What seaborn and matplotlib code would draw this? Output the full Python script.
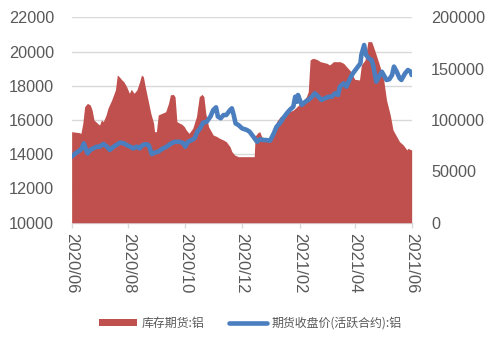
import matplotlib
matplotlib.use("Agg")
import matplotlib.pyplot as plt
import matplotlib.dates as mdates
from matplotlib.patches import Patch
from matplotlib.lines import Line2D
import pandas as pd
import seaborn as sns

# 库存期货:铝 (right axis, tonnes)
inv_dates = [
    "2020-06-01", "2020-06-09", "2020-06-11", "2020-06-13", "2020-06-15", "2020-06-18",
    "2020-06-21", "2020-06-23", "2020-06-25", "2020-06-28", "2020-07-01", "2020-07-03",
    "2020-07-05", "2020-07-08", "2020-07-10", "2020-07-14", "2020-07-18", "2020-07-20",
    "2020-07-22", "2020-07-25", "2020-07-27", "2020-07-30", "2020-08-02", "2020-08-04",
    "2020-08-07", "2020-08-10", "2020-08-13", "2020-08-15", "2020-08-17", "2020-08-19",
    "2020-08-22", "2020-08-25", "2020-08-28", "2020-08-29", "2020-08-31", "2020-09-02",
    "2020-09-06", "2020-09-10", "2020-09-13", "2020-09-15", "2020-09-18", "2020-09-20",
    "2020-09-22", "2020-09-25", "2020-09-27", "2020-09-30", "2020-10-02", "2020-10-05",
    "2020-10-09", "2020-10-13", "2020-10-16", "2020-10-19", "2020-10-21", "2020-10-23",
    "2020-10-26", "2020-10-29", "2020-10-31", "2020-11-04", "2020-11-07", "2020-11-11",
    "2020-11-14", "2020-11-18", "2020-11-20", "2020-11-23", "2020-11-27", "2020-12-14",
    "2020-12-15", "2020-12-18", "2020-12-20", "2020-12-22", "2020-12-27", "2021-01-02",
    "2021-01-04", "2021-01-07", "2021-01-11", "2021-01-14", "2021-01-18", "2021-01-21",
    "2021-01-25", "2021-01-29", "2021-02-01", "2021-02-05", "2021-02-08", "2021-02-10",
    "2021-02-12", "2021-02-15", "2021-02-19", "2021-02-23", "2021-03-02", "2021-03-05",
    "2021-03-09", "2021-03-16", "2021-03-20", "2021-03-23", "2021-03-27", "2021-03-30",
    "2021-04-01", "2021-04-06", "2021-04-08", "2021-04-12", "2021-04-15", "2021-04-19",
    "2021-04-21", "2021-04-24", "2021-04-28", "2021-05-02", "2021-05-05", "2021-05-09",
    "2021-05-12", "2021-05-16", "2021-05-19", "2021-05-23", "2021-05-27", "2021-05-28",
    "2021-06-01",
]
inv_values = [
    88600, 87700, 87000, 96800, 113000, 116200,
    114600, 109700, 100000, 97400, 95100, 100000,
    98400, 104900, 111400, 119500, 129200, 143800,
    142200, 139000, 137300, 132500, 126000, 129900,
    126000, 129200, 137300, 143800, 142200, 132500,
    119500, 106500, 96800, 88600, 88600, 104900,
    106500, 108100, 116200, 124400, 125000, 122700,
    98400, 96800, 96100, 93500, 90300, 87000,
    91900, 103300, 122700, 125000, 122700, 106500,
    93500, 88600, 85400, 83800, 82100, 80500,
    78900, 74000, 69200, 65900, 64300, 64300,
    84400, 87700, 88600, 83800, 81200, 82100,
    87000, 98400, 103300, 104900, 106500, 108100,
    109700, 113000, 115600, 119500, 122700, 127600,
    158500, 160100, 159100, 156800, 155200, 153600,
    156800, 156800, 155200, 152000, 148100, 142900,
    139600, 139000, 153600, 158500, 176300, 176300,
    171400, 163300, 152000, 139000, 119500, 104900,
    90300, 83800, 78900, 75700, 70800, 72400,
    70800,
]

# 期货收盘价(活跃合约):铝 (left axis, yuan/tonne)
px_dates = [
    "2020-06-01", "2020-06-05", "2020-06-08", "2020-06-12", "2020-06-14", "2020-06-18",
    "2020-06-21", "2020-06-24", "2020-06-28", "2020-07-01", "2020-07-05", "2020-07-09",
    "2020-07-12", "2020-07-16", "2020-07-19", "2020-07-23", "2020-07-27", "2020-07-30",
    "2020-08-03", "2020-08-06", "2020-08-10", "2020-08-13", "2020-08-15", "2020-08-18",
    "2020-08-21", "2020-08-23", "2020-08-26", "2020-08-29", "2020-09-02", "2020-09-07",
    "2020-09-11", "2020-09-16", "2020-09-20", "2020-09-25", "2020-09-29", "2020-10-01",
    "2020-10-04", "2020-10-08", "2020-10-11", "2020-10-14", "2020-10-17", "2020-10-20",
    "2020-10-24", "2020-10-28", "2020-10-31", "2020-11-03", "2020-11-05", "2020-11-08",
    "2020-11-11", "2020-11-14", "2020-11-18", "2020-11-20", "2020-11-22", "2020-11-24",
    "2020-11-27", "2020-12-01", "2020-12-06", "2020-12-09", "2020-12-13", "2020-12-17",
    "2020-12-20", "2020-12-24", "2020-12-27", "2020-12-31", "2021-01-04", "2021-01-07",
    "2021-01-11", "2021-01-14", "2021-01-18", "2021-01-21", "2021-01-25", "2021-01-27",
    "2021-01-29", "2021-01-30", "2021-02-01", "2021-02-03", "2021-02-07", "2021-02-10",
    "2021-02-14", "2021-02-17", "2021-02-21", "2021-02-24", "2021-02-28", "2021-03-04",
    "2021-03-07", "2021-03-11", "2021-03-14", "2021-03-16", "2021-03-20", "2021-03-23",
    "2021-03-27", "2021-03-30", "2021-04-03", "2021-04-07", "2021-04-08", "2021-04-11",
    "2021-04-13", "2021-04-16", "2021-04-19", "2021-04-21", "2021-04-24", "2021-04-27",
    "2021-04-30", "2021-05-02", "2021-05-05", "2021-05-08", "2021-05-11", "2021-05-13",
    "2021-05-16", "2021-05-19", "2021-05-21", "2021-05-25", "2021-05-28", "2021-05-31",
    "2021-06-01",
]
px_values = [
    13860, 14050, 14150, 14340, 14640, 14050,
    14250, 14340, 14440, 14440, 14600, 14440,
    14250, 14440, 14540, 14680, 14640, 14540,
    14440, 14340, 14440, 14340, 14480, 14580,
    14580, 14500, 14010, 14090, 14150, 14340,
    14440, 14640, 14730, 14730, 14640, 14440,
    14730, 14830, 14930, 15320, 15510, 15840,
    15900, 16200, 16580, 16740, 16200, 16100,
    16290, 16290, 16580, 16680, 16290, 15800,
    15710, 15510, 15420, 15320, 15030, 14730,
    14870, 14830, 14830, 14790, 15220, 15610,
    15840, 16100, 16390, 16580, 16780, 17360,
    17070, 17460, 17170, 16880, 17070, 17170,
    17360, 17560, 17360, 17170, 17270, 17360,
    17360, 17560, 17460, 17950, 18140, 17950,
    18440, 18730, 19020, 19310, 19800, 20380,
    19800, 19600, 19510, 19120, 18240, 18530,
    18820, 18630, 18340, 18380, 18630, 19120,
    18820, 18440, 18340, 18730, 18920, 18820,
    18630,
]

left_ticks = [10000, 12000, 14000, 16000, 18000, 20000, 22000]
right_ticks = [0, 50000, 100000, 150000, 200000]
inv_label = "库存期货:铝"
px_label = "期货收盘价(活跃合约):铝"

RED = "#C0504D"
BLUE = "#4A7EBF"
GREY_TXT = "#595959"
GRID = "#D9D9D9"

sns.set_theme(style="white")
plt.rcParams["font.family"] = ["Liberation Sans", "Noto Sans CJK SC", "DejaVu Sans"]

inv_df = pd.DataFrame({"date": pd.to_datetime(inv_dates), "inv": inv_values})
px_df = pd.DataFrame({"date": pd.to_datetime(px_dates), "price": px_values})

fig = plt.figure(figsize=(4.94, 3.44), dpi=100)
ax = fig.add_axes([0.145, 0.3526, 0.6883, 0.5971])

# base layer: left scale, gridlines
ax.set_ylim(left_ticks[0], left_ticks[-1])
ax.set_yticks(left_ticks)
ax.yaxis.grid(True, color=GRID, linewidth=1.0)
ax.xaxis.grid(False)
ax.set_axisbelow(True)

# middle layer: inventory area on right scale
ax_inv = ax.twinx()
ax_inv.fill_between(inv_df["date"], inv_df["inv"], 0, color=RED, linewidth=0)
ax_inv.set_ylim(right_ticks[0], right_ticks[-1])
ax_inv.set_yticks(right_ticks)
ax_inv.grid(False)

# top layer: price line on left scale
ax_px = fig.add_axes(ax.get_position(), sharex=ax, sharey=ax)
ax_px.patch.set_visible(False)
sns.lineplot(data=px_df, x="date", y="price", ax=ax_px, color=BLUE,
             linewidth=3.3, legend=False)
ax_px.set_axis_off()

start = pd.Timestamp("2020-06-01")
end = pd.Timestamp("2021-06-01")
ax.set_xlim(start, end)
ax.xaxis.set_major_locator(mdates.MonthLocator(bymonth=[2, 4, 6, 8, 10, 12]))
ax.xaxis.set_major_formatter(mdates.DateFormatter("%Y/%m"))
ax.set_xlabel("")
ax.set_ylabel("")
ax_inv.set_ylabel("")

for a in (ax, ax_inv):
    for s in ("top", "left", "right"):
        a.spines[s].set_visible(False)
    a.spines["bottom"].set_visible(False)

ax.spines["bottom"].set_visible(True)
ax.spines["bottom"].set_color(GRID)
ax.spines["bottom"].set_linewidth(1.0)

ax.tick_params(axis="x", which="major", bottom=True, length=3.6, width=1.0,
               color=GRID, pad=3.5, labelsize=12, labelcolor=GREY_TXT,
               labelrotation=270)
ax.tick_params(axis="y", left=False, length=0, pad=12.7, labelsize=11.7,
               labelcolor=GREY_TXT)
ax_inv.tick_params(axis="y", right=False, length=0, pad=13.9, labelsize=11.7,
                   labelcolor=GREY_TXT)
for lbl in ax.get_xticklabels():
    lbl.set_verticalalignment("top")
    lbl.set_horizontalalignment("center")

handles = [
    Patch(facecolor=RED, edgecolor="none", label=inv_label),
    Line2D([0], [0], color=BLUE, linewidth=3.3, label=px_label),
]
fig.legend(handles=handles, loc="center", bbox_to_anchor=(0.507, 0.061), ncol=2,
           frameon=False, prop={"family": ["Noto Sans CJK SC", "DejaVu Sans"], "size": 8.6},
           labelcolor=GREY_TXT, handlelength=3.2, handleheight=0.5,
           handletextpad=0.4, columnspacing=2.0, borderaxespad=0)

fig.savefig("out.png", dpi=100, facecolor="white")
